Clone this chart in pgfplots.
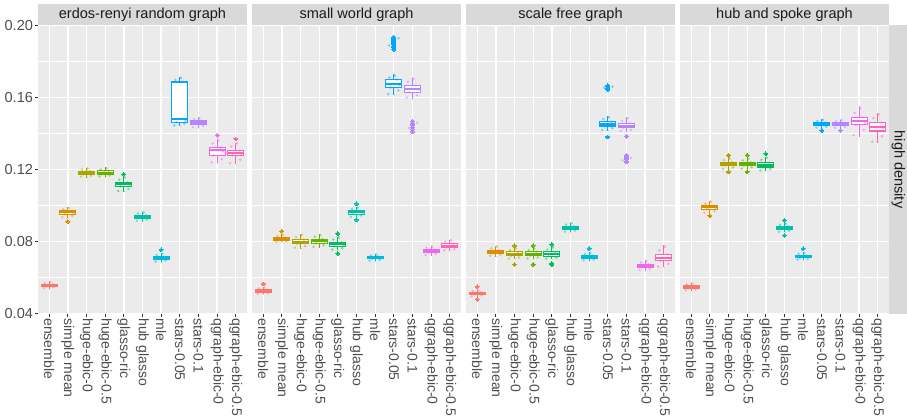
\documentclass[border=0pt]{standalone}
\usepackage{pgfplots}
\pgfplotsset{compat=1.18}
\usepgfplotslibrary{statistics}
\usepackage{fontspec}
\setmainfont{Liberation Sans}
\definecolor{hueA}{HTML}{F8766D}
\definecolor{hueB}{HTML}{DB8E00}
\definecolor{hueC}{HTML}{AEA200}
\definecolor{hueD}{HTML}{64B200}
\definecolor{hueE}{HTML}{00BD5C}
\definecolor{hueF}{HTML}{00C1A7}
\definecolor{hueG}{HTML}{00BADE}
\definecolor{hueH}{HTML}{00A6FF}
\definecolor{hueI}{HTML}{B385FF}
\definecolor{hueJ}{HTML}{EF67EB}
\definecolor{hueK}{HTML}{FF63B6}
\definecolor{panelbg}{HTML}{EBEBEB}
\definecolor{stripbg}{HTML}{D9D9D9}
\definecolor{gthirty}{HTML}{4D4D4D}
\definecolor{gten}{HTML}{1A1A1A}
\definecolor{gtwenty}{HTML}{333333}
\newcommand{\tickfont}{\fontsize{10.9}{13}\selectfont}
\newcommand{\xtickfont}{\fontsize{10.5}{12.5}\selectfont}
\newcommand{\mybox}[8]{\addplot[color=#2, fill=white, line width=0.8pt, boxplot prepared={draw position=#1, lower whisker=#3, lower quartile=#4, median=#5, upper quartile=#6, upper whisker=#7, box extend=0.85, whisker extend=0.001, every median/.style={line width=1.5pt}}, mark=*, mark size=1.4pt, mark options={fill=#2, line width=0pt}] coordinates {#8};}
\newcommand{\myjit}[2]{\addplot[only marks, color=#1, mark=*, mark size=1pt, mark options={fill opacity=0.5, draw opacity=0}] coordinates {#2};}
\pgfplotsset{panel/.style={
 scale only axis, width=156.75pt, height=216.75pt, anchor=south west,
 boxplot/draw direction=y,
 xmin=0.4, xmax=11.6, ymin=0.0396, ymax=0.2004,
 axis background/.style={fill=panelbg},
 axis line style={draw=none},
 xtick={1,...,11}, ytick={0.04,0.08,0.12,0.16,0.20}, minor ytick={0.06,0.10,0.14,0.18},
 xmajorgrids, ymajorgrids, yminorgrids,
 major grid style={white, line width=1pt},
 minor grid style={white, line width=0.5pt},
 tick align=outside, tick pos=left,
 major tick length=2.6pt, minor tick length=0pt,
 tick style={gtwenty, line width=0.8pt},
 scaled y ticks=false,
 xticklabels={ensemble,simple mean,huge-ebic-0,huge-ebic-0.5,glasso-ric,hub glasso,mle,stars-0.05,stars-0.1,qgraph-ebic-0,qgraph-ebic-0.5},
 xticklabel style={rotate=-90, anchor=west, font=\xtickfont, text=gthirty, inner sep=0.5pt},
 yticklabel style={font=\tickfont, text=gthirty, inner sep=1pt, /pgf/number format/fixed, /pgf/number format/fixed zerofill, /pgf/number format/precision=2},
 clip=false,
 /pgf/number format/assume math mode=true,
}}
\begin{document}
\begin{tikzpicture}
\useasboundingbox (0,0) rectangle (680.25pt,312.75pt);
% ---------- panel 1 ----------
\begin{axis}[panel, at={(28.5pt,77.25pt)}]
\mybox{1}{hueA}{0.0535}{0.0550}{0.0556}{0.0562}{0.0578}{}
\myjit{hueA}{(0.7,0.0540)(0.82,0.0550)(0.94,0.0556)(1.06,0.0574)(1.18,0.0562)(1.3,0.0553)(0.76,0.0568)(1.24,0.0545)}
\mybox{2}{hueB}{0.0930}{0.0952}{0.0961}{0.0969}{0.0990}{(2,0.0911)}
\myjit{hueB}{(1.7,0.0935)(1.82,0.0952)(1.94,0.0961)(2.06,0.0985)(2.18,0.0969)(2.3,0.0958)(1.76,0.0978)(2.24,0.0942)}
\mybox{3}{hueC}{0.1155}{0.1174}{0.1183}{0.1191}{0.1210}{}
\myjit{hueC}{(2.7,0.1160)(2.82,0.1174)(2.94,0.1183)(3.06,0.1205)(3.18,0.1191)(3.3,0.1180)(2.76,0.1200)(3.24,0.1165)}
\mybox{4}{hueD}{0.1157}{0.1175}{0.1183}{0.1192}{0.1212}{}
\myjit{hueD}{(3.7,0.1162)(3.82,0.1175)(3.94,0.1184)(4.06,0.1207)(4.18,0.1192)(4.3,0.1180)(3.76,0.1201)(4.24,0.1166)}
\mybox{5}{hueE}{0.1075}{0.1107}{0.1118}{0.1128}{0.1160}{(5,0.1174)}
\myjit{hueE}{(4.7,0.1080)(4.82,0.1107)(4.94,0.1118)(5.06,0.1155)(5.18,0.1128)(5.3,0.1114)(4.76,0.1144)(5.24,0.1092)}
\mybox{6}{hueF}{0.0910}{0.0929}{0.0937}{0.0945}{0.0965}{}
\myjit{hueF}{(5.7,0.0915)(5.82,0.0929)(5.94,0.0937)(6.06,0.0960)(6.18,0.0945)(6.3,0.0934)(5.76,0.0955)(6.24,0.0920)}
\mybox{7}{hueG}{0.0683}{0.0702}{0.0709}{0.0715}{0.0735}{(7,0.0753)}
\myjit{hueG}{(6.7,0.0688)(6.82,0.0702)(6.94,0.0709)(7.06,0.0730)(7.18,0.0715)(7.3,0.0706)(6.76,0.0725)(7.24,0.0693)}
\mybox{8}{hueH}{0.1440}{0.1464}{0.1479}{0.1687}{0.1712}{}
\myjit{hueH}{(7.7,0.1445)(7.82,0.1464)(7.94,0.1479)(8.06,0.1708)(8.18,0.1687)(8.3,0.1470)(7.76,0.1698)(8.24,0.1455)}
\mybox{9}{hueI}{0.1430}{0.1453}{0.1461}{0.1470}{0.1490}{}
\myjit{hueI}{(8.7,0.1435)(8.82,0.1453)(8.94,0.1461)(9.06,0.1485)(9.18,0.1470)(9.3,0.1458)(8.76,0.1480)(9.24,0.1442)}
\mybox{10}{hueJ}{0.1236}{0.1279}{0.1307}{0.1320}{0.1370}{(10,0.1391)}
\myjit{hueJ}{(9.7,0.1240)(9.82,0.1279)(9.94,0.1307)(10.06,0.1360)(10.18,0.1320)(10.3,0.1300)(9.76,0.1345)(10.24,0.1258)}
\mybox{11}{hueK}{0.1230}{0.1278}{0.1292}{0.1305}{0.1350}{(11,0.1370)}
\myjit{hueK}{(10.7,0.1235)(10.82,0.1278)(10.94,0.1292)(11.06,0.1345)(11.18,0.1305)(11.3,0.1288)(10.76,0.1328)(11.24,0.1254)}
\end{axis}
% ---------- panel 2 ----------
\begin{axis}[panel, at={(189pt,77.25pt)}, yticklabels={}, y tick style={draw=none}]
\mybox{1}{hueA}{0.0505}{0.0518}{0.0524}{0.0531}{0.0545}{(1,0.0563)}
\myjit{hueA}{(0.7,0.0508)(0.82,0.0518)(0.94,0.0524)(1.06,0.0542)(1.18,0.0531)(1.3,0.0522)(0.76,0.0538)(1.24,0.0512)}
\mybox{2}{hueB}{0.0795}{0.0806}{0.0813}{0.0820}{0.0840}{(2,0.0857)}
\myjit{hueB}{(1.7,0.0798)(1.82,0.0806)(1.94,0.0813)(2.06,0.0836)(2.18,0.0820)(2.3,0.0810)(1.76,0.0830)(2.24,0.0800)}
\mybox{3}{hueC}{0.0760}{0.0787}{0.0798}{0.0810}{0.0840}{}
\myjit{hueC}{(2.7,0.0765)(2.82,0.0787)(2.94,0.0798)(3.06,0.0835)(3.18,0.0810)(3.3,0.0795)(2.76,0.0825)(3.24,0.0774)}
\mybox{4}{hueD}{0.0765}{0.0790}{0.0802}{0.0812}{0.0840}{}
\myjit{hueD}{(3.7,0.0770)(3.82,0.0790)(3.94,0.0802)(4.06,0.0836)(4.18,0.0812)(4.3,0.0798)(3.76,0.0826)(4.24,0.0778)}
\mybox{5}{hueE}{0.0750}{0.0773}{0.0783}{0.0795}{0.0825}{(5,0.0844)(5,0.0733)}
\myjit{hueE}{(4.7,0.0755)(4.82,0.0773)(4.94,0.0783)(5.06,0.0820)(5.18,0.0795)(5.3,0.0780)(4.76,0.0810)(5.24,0.0762)}
\mybox{6}{hueF}{0.0935}{0.0952}{0.0961}{0.0970}{0.0990}{(6,0.1009)(6,0.0920)}
\myjit{hueF}{(5.7,0.0938)(5.82,0.0952)(5.94,0.0961)(6.06,0.0986)(6.18,0.0970)(6.3,0.0958)(5.76,0.0980)(6.24,0.0944)}
\mybox{7}{hueG}{0.0690}{0.0703}{0.0709}{0.0716}{0.0730}{}
\myjit{hueG}{(6.7,0.0692)(6.82,0.0703)(6.94,0.0709)(7.06,0.0727)(7.18,0.0716)(7.3,0.0706)(6.76,0.0722)(7.24,0.0697)}
\mybox{8}{hueH}{0.1613}{0.1656}{0.1678}{0.1700}{0.1729}{(8,0.1937)(8,0.1930)(8,0.1922)(8,0.1915)(8,0.1908)(8,0.1900)(8,0.1893)(8,0.1885)(8,0.1878)(8,0.1868)}
\myjit{hueH}{(7.7,0.1620)(7.82,0.1656)(7.94,0.1678)(8.06,0.1722)(8.18,0.1700)(8.3,0.1670)(7.76,0.1712)(8.24,0.1640)(8.25,0.1930)(7.75,0.1890)}
\mybox{9}{hueI}{0.1592}{0.1630}{0.1650}{0.1666}{0.1711}{(9,0.1468)(9,0.1455)(9,0.1445)(9,0.1435)(9,0.1425)(9,0.1410)}
\myjit{hueI}{(8.7,0.1600)(8.82,0.1630)(8.94,0.1650)(9.06,0.1705)(9.18,0.1666)(9.3,0.1645)(8.76,0.1688)(9.24,0.1612)(9.25,0.1460)(8.8,0.1430)}
\mybox{10}{hueJ}{0.0720}{0.0738}{0.0746}{0.0754}{0.0775}{}
\myjit{hueJ}{(9.7,0.0724)(9.82,0.0738)(9.94,0.0746)(10.06,0.0770)(10.18,0.0754)(10.3,0.0742)(9.76,0.0764)(10.24,0.0730)}
\mybox{11}{hueK}{0.0745}{0.0765}{0.0776}{0.0788}{0.0810}{}
\myjit{hueK}{(10.7,0.0750)(10.82,0.0765)(10.94,0.0776)(11.06,0.0806)(11.18,0.0788)(11.3,0.0772)(10.76,0.0798)(11.24,0.0756)}
\end{axis}
% ---------- panel 3 ----------
\begin{axis}[panel, at={(349.5pt,77.25pt)}, yticklabels={}, y tick style={draw=none}]
\mybox{1}{hueA}{0.0490}{0.0505}{0.0511}{0.0517}{0.0532}{(1,0.0548)(1,0.0478)}
\myjit{hueA}{(0.7,0.0494)(0.82,0.0505)(0.94,0.0511)(1.06,0.0528)(1.18,0.0517)(1.3,0.0509)(0.76,0.0524)(1.24,0.0499)}
\mybox{2}{hueB}{0.0715}{0.0735}{0.0742}{0.0750}{0.0775}{}
\myjit{hueB}{(1.7,0.0720)(1.82,0.0735)(1.94,0.0742)(2.06,0.0770)(2.18,0.0750)(2.3,0.0739)(1.76,0.0762)(2.24,0.0726)}
\mybox{3}{hueC}{0.0700}{0.0720}{0.0729}{0.0742}{0.0765}{(3,0.0776)(3,0.0672)}
\myjit{hueC}{(2.7,0.0704)(2.82,0.0720)(2.94,0.0729)(3.06,0.0760)(3.18,0.0742)(3.3,0.0726)(2.76,0.0752)(3.24,0.0710)}
\mybox{4}{hueD}{0.0700}{0.0720}{0.0729}{0.0742}{0.0765}{(4,0.0776)(4,0.0672)}
\myjit{hueD}{(3.7,0.0705)(3.82,0.0721)(3.94,0.0730)(4.06,0.0761)(4.18,0.0741)(4.3,0.0725)(3.76,0.0751)(4.24,0.0711)}
\mybox{5}{hueE}{0.0700}{0.0718}{0.0729}{0.0742}{0.0770}{(5,0.0783)(5,0.0678)(5,0.0672)}
\myjit{hueE}{(4.7,0.0704)(4.82,0.0718)(4.94,0.0729)(5.06,0.0765)(5.18,0.0742)(5.3,0.0726)(4.76,0.0755)(5.24,0.0709)}
\mybox{6}{hueF}{0.0850}{0.0868}{0.0876}{0.0884}{0.0905}{}
\myjit{hueF}{(5.7,0.0854)(5.82,0.0868)(5.94,0.0876)(6.06,0.0900)(6.18,0.0884)(6.3,0.0873)(5.76,0.0894)(6.24,0.0860)}
\mybox{7}{hueG}{0.0690}{0.0707}{0.0714}{0.0721}{0.0740}{(7,0.0761)}
\myjit{hueG}{(6.7,0.0694)(6.82,0.0707)(6.94,0.0714)(7.06,0.0736)(7.18,0.0721)(7.3,0.0711)(6.76,0.0730)(7.24,0.0699)}
\mybox{8}{hueH}{0.1415}{0.1442}{0.1452}{0.1465}{0.1495}{(8,0.1668)(8,0.1660)(8,0.1653)(8,0.1645)(8,0.1381)}
\myjit{hueH}{(7.7,0.1420)(7.82,0.1442)(7.94,0.1452)(8.06,0.1490)(8.18,0.1465)(8.3,0.1448)(7.76,0.1480)(8.24,0.1430)(8.25,0.1660)(7.8,0.1655)}
\mybox{9}{hueI}{0.1410}{0.1432}{0.1442}{0.1456}{0.1490}{(9,0.1385)(9,0.1279)(9,0.1270)(9,0.1262)(9,0.1255)(9,0.1242)}
\myjit{hueI}{(8.7,0.1415)(8.82,0.1432)(8.94,0.1442)(9.06,0.1485)(9.18,0.1456)(9.3,0.1439)(8.76,0.1472)(9.24,0.1420)(9.25,0.1265)(8.8,0.1250)}
\mybox{10}{hueJ}{0.0635}{0.0655}{0.0664}{0.0673}{0.0695}{}
\myjit{hueJ}{(9.7,0.0640)(9.82,0.0655)(9.94,0.0664)(10.06,0.0690)(10.18,0.0673)(10.3,0.0660)(9.76,0.0683)(10.24,0.0646)}
\mybox{11}{hueK}{0.0655}{0.0693}{0.0709}{0.0728}{0.0778}{}
\myjit{hueK}{(10.7,0.0660)(10.82,0.0693)(10.94,0.0709)(11.06,0.0770)(11.18,0.0728)(11.3,0.0704)(10.76,0.0750)(11.24,0.0675)}
\end{axis}
% ---------- panel 4 ----------
\begin{axis}[panel, at={(510pt,77.25pt)}, yticklabels={}, y tick style={draw=none}]
\mybox{1}{hueA}{0.0525}{0.0540}{0.0546}{0.0552}{0.0570}{}
\myjit{hueA}{(0.7,0.0528)(0.82,0.0540)(0.94,0.0546)(1.06,0.0566)(1.18,0.0552)(1.3,0.0543)(0.76,0.0560)(1.24,0.0533)}
\mybox{2}{hueB}{0.0955}{0.0980}{0.0989}{0.0999}{0.1025}{(2,0.0942)}
\myjit{hueB}{(1.7,0.0960)(1.82,0.0980)(1.94,0.0989)(2.06,0.1020)(2.18,0.0999)(2.3,0.0985)(1.76,0.1010)(2.24,0.0968)}
\mybox{3}{hueC}{0.1200}{0.1222}{0.1231}{0.1241}{0.1265}{(3,0.1279)(3,0.1187)}
\myjit{hueC}{(2.7,0.1204)(2.82,0.1222)(2.94,0.1231)(3.06,0.1260)(3.18,0.1241)(3.3,0.1228)(2.76,0.1252)(3.24,0.1211)}
\mybox{4}{hueD}{0.1200}{0.1222}{0.1232}{0.1241}{0.1265}{(4,0.1279)(4,0.1187)}
\myjit{hueD}{(3.7,0.1205)(3.82,0.1222)(3.94,0.1232)(4.06,0.1259)(4.18,0.1240)(4.3,0.1227)(3.76,0.1251)(4.24,0.1212)}
\mybox{5}{hueE}{0.1190}{0.1214}{0.1226}{0.1238}{0.1270}{(5,0.1287)}
\myjit{hueE}{(4.7,0.1195)(4.82,0.1214)(4.94,0.1226)(5.06,0.1265)(5.18,0.1238)(5.3,0.1222)(4.76,0.1254)(5.24,0.1202)}
\mybox{6}{hueF}{0.0850}{0.0868}{0.0876}{0.0884}{0.0900}{(6,0.0918)(6,0.0833)}
\myjit{hueF}{(5.7,0.0853)(5.82,0.0868)(5.94,0.0876)(6.06,0.0897)(6.18,0.0884)(6.3,0.0873)(5.76,0.0891)(6.24,0.0859)}
\mybox{7}{hueG}{0.0695}{0.0708}{0.0714}{0.0720}{0.0740}{(7,0.0759)}
\myjit{hueG}{(6.7,0.0698)(6.82,0.0708)(6.94,0.0714)(7.06,0.0736)(7.18,0.0720)(7.3,0.0711)(6.76,0.0730)(7.24,0.0702)}
\mybox{8}{hueH}{0.1430}{0.1445}{0.1452}{0.1460}{0.1480}{(8,0.1417)}
\myjit{hueH}{(7.7,0.1433)(7.82,0.1445)(7.94,0.1452)(8.06,0.1476)(8.18,0.1460)(8.3,0.1449)(7.76,0.1470)(8.24,0.1438)}
\mybox{9}{hueI}{0.1430}{0.1446}{0.1453}{0.1460}{0.1478}{(9,0.1417)}
\myjit{hueI}{(8.7,0.1432)(8.82,0.1446)(8.94,0.1453)(9.06,0.1475)(9.18,0.1459)(9.3,0.1450)(8.76,0.1469)(9.24,0.1437)}
\mybox{10}{hueJ}{0.1381}{0.1448}{0.1470}{0.1489}{0.1552}{}
\myjit{hueJ}{(9.7,0.1390)(9.82,0.1448)(9.94,0.1470)(10.06,0.1540)(10.18,0.1489)(10.3,0.1460)(9.76,0.1515)(10.24,0.1420)}
\mybox{11}{hueK}{0.1348}{0.1414}{0.1437}{0.1461}{0.1514}{}
\myjit{hueK}{(10.7,0.1355)(10.82,0.1414)(10.94,0.1437)(11.06,0.1505)(11.18,0.1461)(11.3,0.1430)(10.76,0.1485)(11.24,0.1385)}
\end{axis}
% ---------- strips ----------
\fill[stripbg] (28.5pt,294pt) rectangle (185.25pt,309.4pt);
\fill[stripbg] (189pt,294pt) rectangle (345.75pt,309.4pt);
\fill[stripbg] (349.5pt,294pt) rectangle (506.25pt,309.4pt);
\fill[stripbg] (510pt,294pt) rectangle (666.75pt,309.4pt);
\fill[stripbg] (667.1pt,77.25pt) rectangle (680.25pt,294pt);
\node[font=\tickfont, text=gten, inner sep=0pt] at (106.875pt,301.7pt) {erdos-renyi random graph};
\node[font=\tickfont, text=gten, inner sep=0pt] at (267.375pt,301.7pt) {small world graph};
\node[font=\tickfont, text=gten, inner sep=0pt] at (427.875pt,301.7pt) {scale free graph};
\node[font=\tickfont, text=gten, inner sep=0pt] at (588.375pt,301.7pt) {hub and spoke graph};
\node[font=\tickfont, text=gten, inner sep=0pt, rotate=-90] at (673.7pt,185.6pt) {high density};
\end{tikzpicture}
\end{document}
